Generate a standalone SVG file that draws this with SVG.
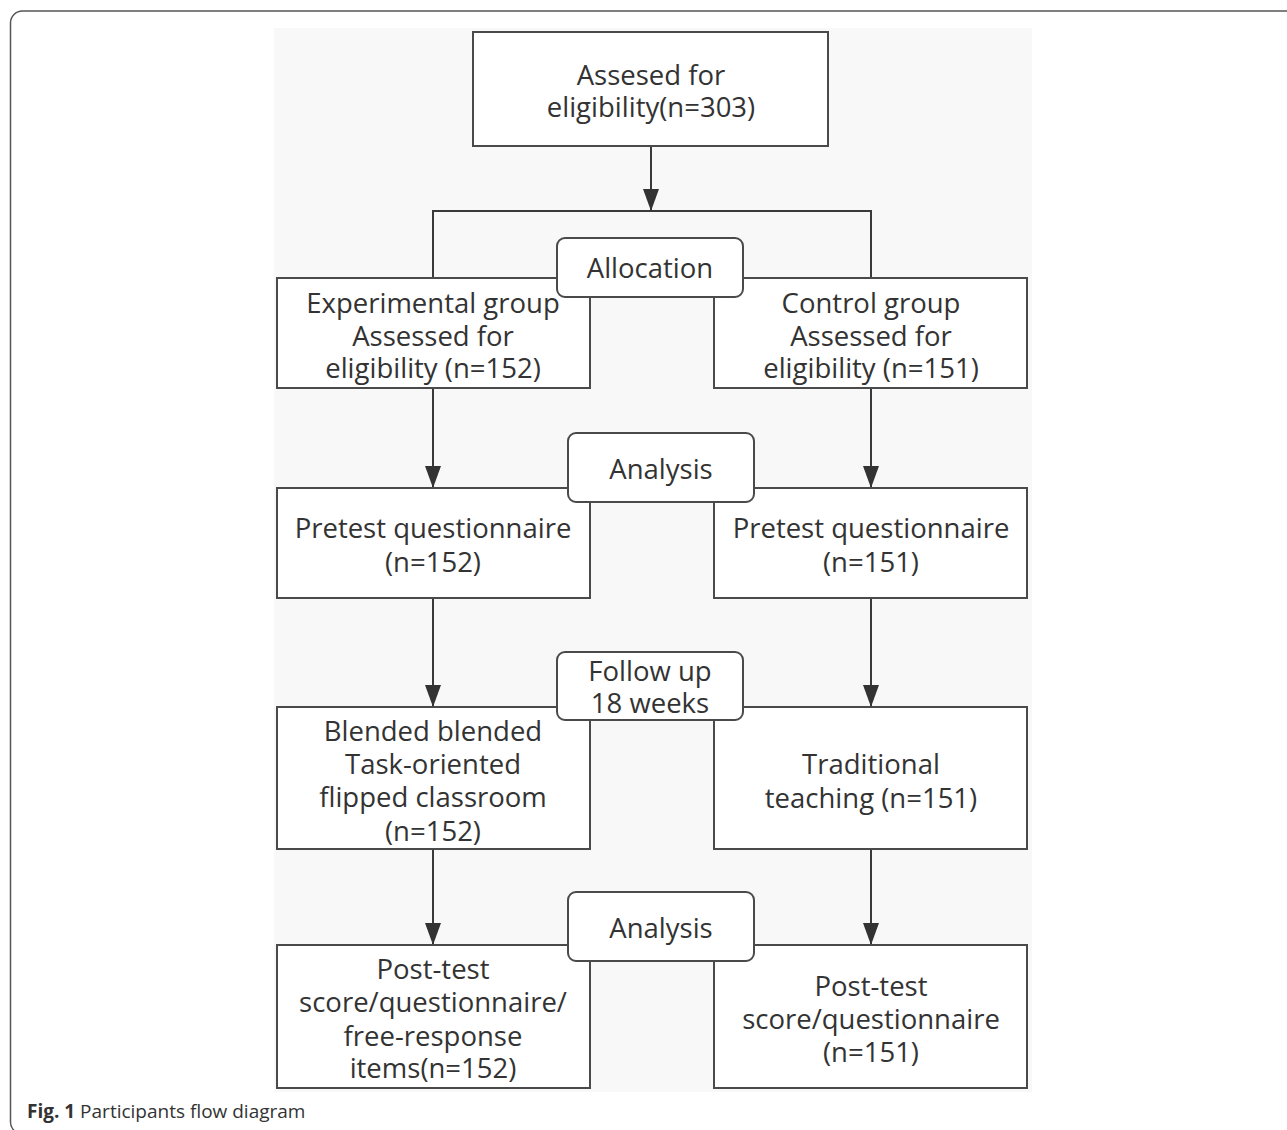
<svg xmlns="http://www.w3.org/2000/svg" width="1287" height="1130" viewBox="0 0 1287 1130">
<defs>
<style>
.frame{fill:#ffffff;stroke:#555555;stroke-width:1.5}
.panel{fill:#f8f8f8;stroke:none}
.box{fill:#ffffff;stroke:#4a4a4a;stroke-width:2}
.lbl{fill:#ffffff;stroke:#4a4a4a;stroke-width:2}
.t{font-family:"Open Sans","Noto Sans",sans-serif;font-size:27.5px;fill:#333333;text-anchor:middle;dominant-baseline:central}
.ln{fill:none;stroke:#3a3a3a;stroke-width:2}
.cap{font-family:"Open Sans","Noto Sans",sans-serif;font-size:19px;fill:#333333}
</style>
<marker id="ah" markerWidth="16" markerHeight="22" refX="8" refY="22" orient="0" markerUnits="userSpaceOnUse" viewBox="0 0 16 22">
<path d="M0,0 L16,0 L8,22 Z" fill="#333333"/>
</marker>
</defs>
<rect class="frame" x="10.5" y="11" width="1300" height="1123" rx="12" ry="12"/>
<rect class="panel" x="274" y="28" width="758" height="1064"/>

<g id="connectors">
<line class="ln" x1="651" y1="146" x2="651" y2="211" marker-end="url(#ah)"/>
<polyline class="ln" points="433,278 433,211 871,211 871,278"/>
<line class="ln" x1="433" y1="388" x2="433" y2="488" marker-end="url(#ah)"/>
<line class="ln" x1="871" y1="388" x2="871" y2="488" marker-end="url(#ah)"/>
<line class="ln" x1="433" y1="598" x2="433" y2="707" marker-end="url(#ah)"/>
<line class="ln" x1="871" y1="598" x2="871" y2="707" marker-end="url(#ah)"/>
<line class="ln" x1="433" y1="849" x2="433" y2="945" marker-end="url(#ah)"/>
<line class="ln" x1="871" y1="849" x2="871" y2="945" marker-end="url(#ah)"/>
</g>

<g id="n-eligibility">
<rect class="box" x="473" y="32" width="355" height="114"/>
<text class="t" x="651" y="74">Assesed for</text>
<text class="t" x="651" y="106">eligibility(n=303)</text>
</g>

<g id="n-exp">
<rect class="box" x="277" y="278" width="313" height="110"/>
<text class="t" x="433" y="302">Experimental group</text>
<text class="t" x="433" y="335">Assessed for</text>
<text class="t" x="433" y="367">eligibility (n=152)</text>
</g>
<g id="n-ctrl">
<rect class="box" x="714" y="278" width="313" height="110"/>
<text class="t" x="871" y="302">Control group</text>
<text class="t" x="871" y="335">Assessed for</text>
<text class="t" x="871" y="367">eligibility (n=151)</text>
</g>
<g id="n-allocation">
<rect class="lbl" x="557" y="238" width="186" height="59" rx="8" ry="8"/>
<text class="t" x="650" y="267">Allocation</text>
</g>

<g id="n-pre-exp">
<rect class="box" x="277" y="488" width="313" height="110"/>
<text class="t" x="433" y="527">Pretest questionnaire</text>
<text class="t" x="433" y="561">(n=152)</text>
</g>
<g id="n-pre-ctrl">
<rect class="box" x="714" y="488" width="313" height="110"/>
<text class="t" x="871" y="527">Pretest questionnaire</text>
<text class="t" x="871" y="561">(n=151)</text>
</g>
<g id="n-analysis1">
<rect class="lbl" x="568" y="433" width="186" height="69" rx="8" ry="8"/>
<text class="t" x="661" y="468">Analysis</text>
</g>

<g id="n-blended">
<rect class="box" x="277" y="707" width="313" height="142"/>
<text class="t" x="433" y="730">Blended blended</text>
<text class="t" x="433" y="763">Task-oriented</text>
<text class="t" x="433" y="796">flipped classroom</text>
<text class="t" x="433" y="830">(n=152)</text>
</g>
<g id="n-traditional">
<rect class="box" x="714" y="707" width="313" height="142"/>
<text class="t" x="871" y="763">Traditional</text>
<text class="t" x="871" y="797">teaching (n=151)</text>
</g>
<g id="n-followup">
<rect class="lbl" x="557" y="652" width="186" height="68" rx="8" ry="8"/>
<text class="t" x="650" y="670">Follow up</text>
<text class="t" x="650" y="702">18 weeks</text>
</g>

<g id="n-post-exp">
<rect class="box" x="277" y="945" width="313" height="143"/>
<text class="t" x="433" y="968">Post-test</text>
<text class="t" x="433" y="1001">score/questionnaire/</text>
<text class="t" x="433" y="1035">free-response</text>
<text class="t" x="433" y="1067">items(n=152)</text>
</g>
<g id="n-post-ctrl">
<rect class="box" x="714" y="945" width="313" height="143"/>
<text class="t" x="871" y="985">Post-test</text>
<text class="t" x="871" y="1018">score/questionnaire</text>
<text class="t" x="871" y="1051">(n=151)</text>
</g>
<g id="n-analysis2">
<rect class="lbl" x="568" y="892" width="186" height="69" rx="8" ry="8"/>
<text class="t" x="661" y="927">Analysis</text>
</g>

<text class="cap" x="27" y="1118"><tspan font-weight="bold">Fig. 1</tspan>  Participants flow diagram</text>
</svg>
